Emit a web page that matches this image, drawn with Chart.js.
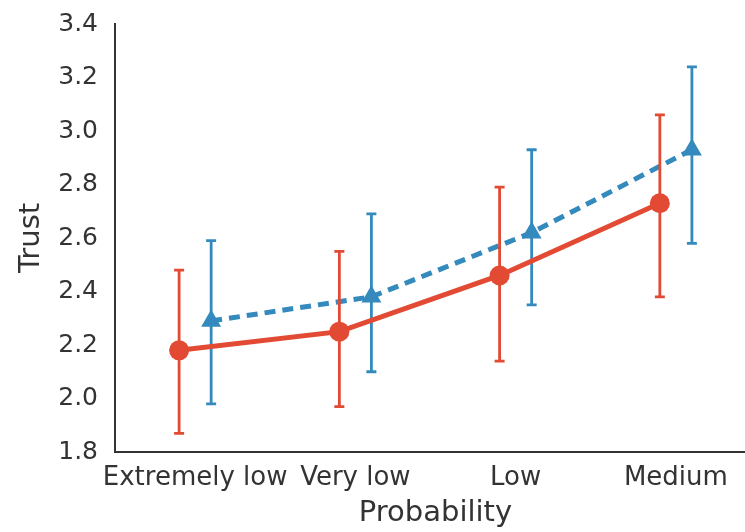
<!DOCTYPE html>
<html>
<head>
<meta charset="utf-8">
<script src="https://cdn.jsdelivr.net/npm/chart.js@4/dist/chart.umd.min.js"></script>
<style>
html,body{margin:0;padding:0;background:#fff;overflow:hidden;}
#wrap{width:756px;height:532px;}
</style>
</head>
<body>
<div id="wrap"><canvas id="c" width="756" height="532"></canvas></div>
<script>
const categories = ["Extremely low", "Very low", "Low", "Medium"];
const yTicks = [1.8, 2.0, 2.2, 2.4, 2.6, 2.8, 3.0, 3.2, 3.4];

const redMean = [2.18, 2.25, 2.46, 2.73];
const redLow  = [1.87, 1.97, 2.14, 2.38];
const redHigh = [2.48, 2.55, 2.79, 3.06];

const blueMean = [2.29, 2.38, 2.62, 2.93];
const blueLow  = [1.98, 2.10, 2.35, 2.58];
const blueHigh = [2.59, 2.69, 2.93, 3.24];

const RED = '#E24A33', BLUE = '#348ABD';
const dodge = 0.1;

function pts(mean, lo, hi, off) {
  return mean.map((v, i) => ({x: i + off, y: v, lo: lo[i], hi: hi[i]}));
}

const errorBars = {
  id: 'errorBars',
  beforeDatasetDraw(chart, args) {
    const ds = chart.data.datasets[args.index];
    const xs = chart.scales.x, ys = chart.scales.y;
    const ctx = chart.ctx;
    ctx.save();
    ctx.strokeStyle = ds.borderColor;
    ctx.lineWidth = 2.8;
    ctx.setLineDash([]);
    ds.data.forEach(p => {
      const x = xs.getPixelForValue(p.x);
      const y1 = ys.getPixelForValue(p.lo), y2 = ys.getPixelForValue(p.hi);
      ctx.beginPath();
      ctx.moveTo(x, y1); ctx.lineTo(x, y2);
      ctx.moveTo(x - 5, y1); ctx.lineTo(x + 5, y1);
      ctx.moveTo(x - 5, y2); ctx.lineTo(x + 5, y2);
      ctx.stroke();
    });
    ctx.restore();
  }
};

const xTickFont = {family: 'DejaVu Sans', size: 26};
const yTickFont = {family: 'DejaVu Sans', size: 25};
const titleFont = {family: 'DejaVu Sans', size: 29};

new Chart(document.getElementById('c'), {
  type: 'line',
  data: {
    datasets: [
      {
        label: 'Red series',
        data: pts(redMean, redLow, redHigh, -dodge),
        borderColor: RED, backgroundColor: RED,
        borderWidth: 5, pointStyle: 'circle', pointRadius: 10,
        pointBorderWidth: 0, pointHoverRadius: 10, tension: 0
      },
      {
        label: 'Blue series',
        data: pts(blueMean, blueLow, blueHigh, dodge),
        borderColor: BLUE, backgroundColor: BLUE,
        borderWidth: 5, borderDash: [11, 7], pointStyle: 'triangle', pointRadius: 11.5,
        pointBorderWidth: 0, pointHoverRadius: 11.5, tension: 0
      }
    ]
  },
  options: {
    responsive: false,
    animation: false,
    layout: {autoPadding: false, padding: {top: 24, right: 0, left: 0, bottom: 0}},
    plugins: {legend: {display: false}, tooltip: {enabled: false}},
    scales: {
      x: {
        type: 'linear', min: -0.5, max: 3.5,
        grid: {display: false, drawTicks: false},
        border: {display: true, color: '#333', width: 2},
        afterBuildTicks: s => { s.ticks = categories.map((c, i) => ({value: i})); },
        afterFit: s => { s.height = 80; s.paddingLeft = 0; s.paddingRight = 0; },
        ticks: {
          font: xTickFont, color: '#333', padding: 11, maxRotation: 0, autoSkip: false,
          callback: v => categories[v]
        },
        title: {display: true, text: 'Probability', font: titleFont, color: '#333', padding: {top: 0, bottom: 1}}
      },
      y: {
        min: 1.8, max: 3.4,
        grid: {display: false, drawTicks: false},
        border: {display: true, color: '#333', width: 2},
        afterBuildTicks: s => { s.ticks = yTicks.map(v => ({value: v})); },
        afterFit: s => { s.width = 115; s.paddingTop = 0; s.paddingBottom = 0; },
        ticks: {font: yTickFont, color: '#333', padding: 17, callback: v => Number(v).toFixed(1)},
        title: {display: true, text: 'Trust', font: titleFont, color: '#333', padding: {top: 14, bottom: 0}}
      }
    }
  },
  plugins: [errorBars]
});
</script>
</body>
</html>
